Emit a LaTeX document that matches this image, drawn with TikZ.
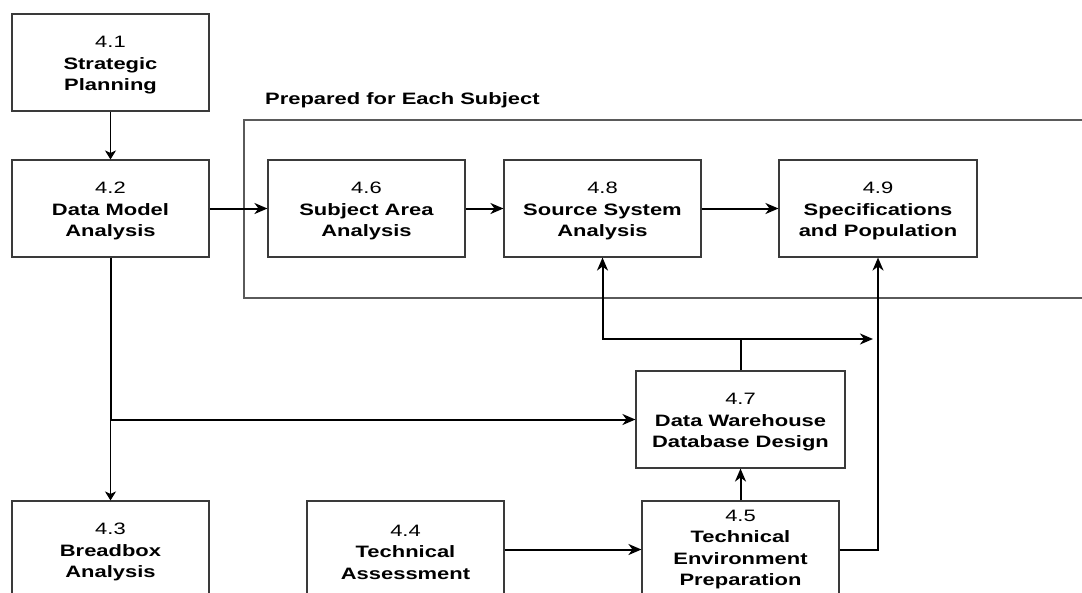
\documentclass[tikz,border=0pt]{standalone}
\usepackage{fontspec}
\setmainfont{Liberation Sans}[FakeStretch=1.33]
\usetikzlibrary{arrows.meta}
\definecolor{boxline}{HTML}{3A3A3A}
\definecolor{frameline}{HTML}{5A5A5A}
\newcommand{\topstrut}{\rule{0pt}{17pt}}
\tikzset{
  procbox/.style={draw=boxline, line width=1.1pt, rectangle, minimum width=197pt, minimum height=97pt,
    inner sep=0pt, align=center, font=\fontsize{16.5}{21.5}\selectfont},
  conn/.style={line width=2pt, -{Stealth[length=13pt,width=11pt,inset=4pt]}},
  thinconn/.style={line width=1.1pt, -{Stealth[length=9pt,width=11pt,inset=2.5pt]}},
}
\begin{document}
\begin{tikzpicture}[x=1pt,y=-1pt]
\useasboundingbox (0,0) rectangle (1082,592);
% frame
\draw[frameline, line width=1.2pt] (1082,120) -- (244,120) -- (244,298) -- (1082,298);
\node[anchor=base west, inner sep=0pt, font=\fontsize{16.5}{21.5}\selectfont\bfseries] (title) at (265,104) {Prepared for Each Subject};
% boxes
\node[procbox] (n41) at (110.5,62.5) {\topstrut 4.1\\\textbf{Strategic}\\\textbf{Planning}};
\node[procbox] (n42) at (110.5,208.5) {\topstrut 4.2\\\textbf{Data Model}\\\textbf{Analysis}};
\node[procbox] (n46) at (366.5,208.5) {\topstrut 4.6\\\textbf{Subject Area}\\\textbf{Analysis}};
\node[procbox] (n48) at (602.5,208.5) {\topstrut 4.8\\\textbf{Source System}\\\textbf{Analysis}};
\node[procbox, minimum width=198pt] (n49) at (878,208.5) {\topstrut 4.9\\\textbf{Specifications}\\\textbf{and Population}};
\node[procbox, minimum width=209pt] (n47) at (740.5,419.5) {\topstrut 4.7\\\textbf{Data Warehouse}\\\textbf{Database Design}};
\node[procbox] (n43) at (110.5,549.5) {\topstrut 4.3\\\textbf{Breadbox}\\\textbf{Analysis}};
\node[procbox] (n44) at (405.5,549.5) {\topstrut 4.4\\\textbf{Technical}\\\textbf{Assessment}};
\node[procbox] (n45) at (740.5,549.5) {4.5\\\textbf{Technical}\\\textbf{Environment}\\\textbf{Preparation}};
% connectors
\coordinate (jl) at (602.5,339);
\coordinate (jr) at (873,339);
\draw[thinconn] (n41.south) -- (n42.north);
\draw[conn] (n42.east) -- (n46.west);
\draw[conn] (n46.east) -- (n48.west);
\draw[conn] (n48.east) -- (n49.west);
\draw[conn] (n42.south) |- (n47.west);
\draw[thinconn] (n42.south |- n47.west) -- (n43.north);
\draw[conn] (n44.east) -- (n45.west);
\draw[conn] (n45.north) -- (n47.south);
\draw[conn] (n45.east) -| (n49.south);
\draw[conn] (n47.north) |- (jl) -- (n48.south);
\draw[conn] (jl) -- (jr);
\end{tikzpicture}
\end{document}
